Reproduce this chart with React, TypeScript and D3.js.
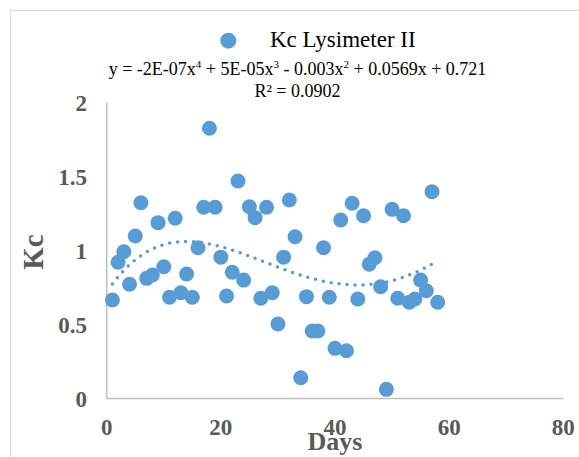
import React from 'react';
import * as d3 from 'd3';

// Kc measured by lysimeter II, one value per day
const days = [
  1, 2, 3, 4, 5, 6, 7, 8, 9, 10, 11, 12, 13, 14, 15, 16, 17, 18, 19, 20,
  21, 22, 23, 24, 25, 26, 27, 28, 29, 30, 31, 32, 33, 34, 35, 36, 37, 38, 39, 40,
  41, 42, 43, 44, 45, 46, 47, 48, 49, 50, 51, 52, 53, 54, 55, 56, 57, 58,
];
const kc = [
  0.666, 0.921, 0.992, 0.772, 1.098, 1.323, 0.812, 0.834, 1.188, 0.89,
  0.684, 1.218, 0.715, 0.841, 0.684, 1.019, 1.292, 1.826, 1.292, 0.955,
  0.693, 0.853, 1.47, 0.8, 1.296, 1.222, 0.677, 1.292, 0.715, 0.503,
  0.955, 1.341, 1.093, 0.14, 0.688, 0.456, 0.456, 1.019, 0.684, 0.339,
  1.206, 0.323, 1.319, 0.672, 1.235, 0.907, 0.951, 0.755, 0.062, 1.278,
  0.677, 1.235, 0.65, 0.672, 0.8, 0.728, 1.397, 0.65,
];
const xTicks = [0, 20, 40, 60, 80];
const yTicks = [0, 0.5, 1, 1.5, 2];
const seriesName = 'Kc Lysimeter II';

const W = 579;
const H = 457;
const blue = '#5B9BD5';
const grey = '#595959';
const serif = '"Liberation Serif", "Times New Roman", serif';

// least squares polynomial (order 4), like Excel's trendline
function polyFit(xs: number[], ys: number[], order: number) {
  const s = d3.max(xs) as number;
  const n = order + 1;
  const A: number[][] = [];
  for (let i = 0; i < n; i++) {
    const row: number[] = [];
    for (let j = 0; j < n; j++) row.push(d3.sum(xs, (x) => Math.pow(x / s, i + j)));
    row.push(d3.sum(xs, (x, k) => ys[k] * Math.pow(x / s, i)));
    A.push(row);
  }
  for (let c = 0; c < n; c++) {
    let p = c;
    for (let r = c + 1; r < n; r++) if (Math.abs(A[r][c]) > Math.abs(A[p][c])) p = r;
    [A[c], A[p]] = [A[p], A[c]];
    for (let r = 0; r < n; r++) {
      if (r === c) continue;
      const f = A[r][c] / A[c][c];
      for (let k = c; k <= n; k++) A[r][k] -= f * A[c][k];
    }
  }
  const coef = A.map((row, i) => row[n] / row[i]);
  return (x: number) => d3.sum(coef, (c, i) => c * Math.pow(x / s, i));
}

export default function App() {
  const x = d3.scaleLinear().domain([0, 80]).range([106.7, 563.3]);
  const y = d3.scaleLinear().domain([0, 2]).range([398.5, 102.5]);

  const trend = polyFit(days, kc, 4);
  const first = d3.min(days) as number;
  const last = d3.max(days) as number;
  const tx = d3.range(first, last + 0.001, 0.25);
  const trendPath = d3
    .line<number>()
    .x((d) => x(d))
    .y((d) => y(trend(d)))
    .curve(d3.curveMonotoneX)(tx);

  const [x0, x1] = x.range();
  const [y0, y1] = y.range();

  return (
    <svg width={W} height={H} style={{ position: 'absolute', left: 0, top: 0, background: '#fff' }}>
      <rect x={10.5} y={10.5} width={700} height={600} fill="#fff" stroke="#d9d9d9" />

      {/* legend */}
      <circle cx={228.3} cy={40.7} r={8} fill={blue} />
      <text x={270} y={47.3} fontFamily={serif} fontSize={23} fill="#000">
        {seriesName}
      </text>

      {/* trendline equation */}
      <text x={297.5} y={75} textAnchor="middle" fontFamily={serif} fontSize={18} fill="#000">
        y = -2E-07x<tspan fontSize={11} dy={-7}>4</tspan>
        <tspan dy={7}> + 5E-05x</tspan>
        <tspan fontSize={11} dy={-7}>3</tspan>
        <tspan dy={7}> - 0.003x</tspan>
        <tspan fontSize={11} dy={-7}>2</tspan>
        <tspan dy={7}> + 0.0569x + 0.721</tspan>
      </text>
      <text x={297.5} y={96.7} textAnchor="middle" fontFamily={serif} fontSize={18} fill="#000">
        R² = 0.0902
      </text>

      {/* axes */}
      <line x1={x0} x2={x0} y1={y0} y2={y1} stroke="#bfbfbf" strokeWidth={1.5} />
      <line x1={x0} x2={x1} y1={y0} y2={y0} stroke="#bfbfbf" strokeWidth={1.5} />

      {yTicks.map((t) => (
        <text key={t} x={87} y={y(t) + 8} textAnchor="end" fontFamily={serif} fontSize={23}
          fontWeight="bold" fill={grey}>
          {t}
        </text>
      ))}
      {xTicks.map((t) => (
        <text key={t} x={x(t)} y={435} textAnchor="middle" fontFamily={serif} fontSize={23}
          fontWeight="bold" fill={grey}>
          {t}
        </text>
      ))}

      <text x={335} y={450} textAnchor="middle" fontFamily={serif} fontSize={26}
        fontWeight="bold" fill={grey}>
        Days
      </text>
      <text transform="translate(43 252) rotate(-90)" textAnchor="middle" fontFamily={serif}
        fontSize={29} fontWeight="bold" fill={grey}>
        Kc
      </text>

      {/* points */}
      {days.map((d, i) => (
        <circle key={d} cx={x(d)} cy={y(kc[i])} r={7.5} fill={blue} />
      ))}

      {/* order-4 polynomial trendline */}
      <path d={trendPath ?? ''} fill="none" stroke={blue} strokeWidth={3.5}
        strokeDasharray="0 8" strokeLinecap="round" />
    </svg>
  );
}
